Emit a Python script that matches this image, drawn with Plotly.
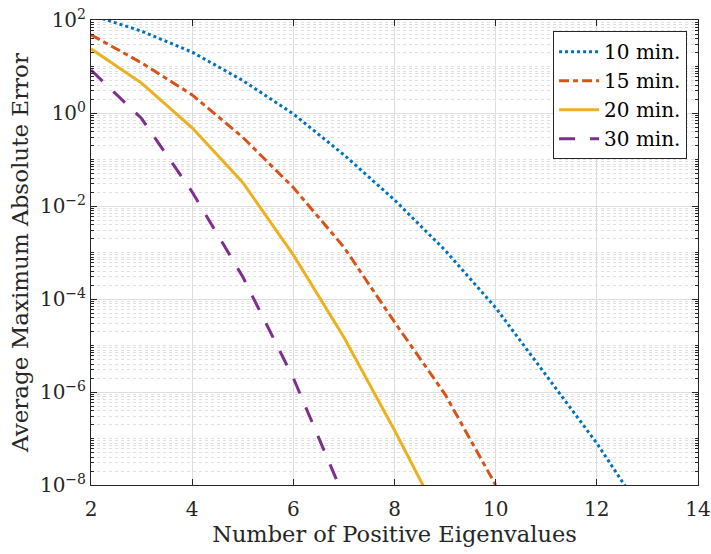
import plotly.graph_objects as go

# ---- data ----
x10 = [2, 3, 4, 5, 6, 7, 8, 9, 10, 11, 12, 13]
y10 = [129, 57.5, 20.4, 5.0, 0.955, 0.126, 0.0135, 1.12e-3, 6.5e-5, 2.2e-6, 7.9e-8, 1.8e-9]

x15 = [2, 3, 4, 5, 6, 7, 8, 9, 10]
y15 = [48, 12, 2.45, 0.30, 0.025, 1.3e-3, 3.2e-5, 8.9e-7, 1.0e-8]

x20 = [2, 3, 4, 5, 6, 7, 8, 9]
y20 = [24, 4.4, 0.48, 0.032, 8.9e-4, 1.5e-5, 1.5e-7, 1.2e-9]

x30 = [2, 3, 4, 5, 6, 7]
y30 = [8.4, 0.76, 0.020, 3.0e-4, 2.0e-6, 5.5e-9]

labels = ["10 min.", "15 min.", "20 min.", "30 min."]
colors = ["#0072BD", "#D95319", "#EDB120", "#7E2F8E"]
dashes = ["3px,3px", "10px,4px,5px,4px", "solid", "16px,15px"]

xticks = [2, 4, 6, 8, 10, 12, 14]
yexp = [-8, -6, -4, -2, 0, 2]

FONT = "DejaVu Serif"
INK = "#262626"

fig = go.Figure()
for xs, ys, name, c, d in zip([x10, x15, x20, x30], [y10, y15, y20, y30],
                              labels, colors, dashes):
    fig.add_trace(go.Scatter(x=xs, y=ys, mode="lines", name=name,
                             line=dict(color=c, width=3, dash=d)))

major_y = [10.0 ** e for e in yexp]
minor_y = []
for e in range(-8, 2):
    for m in range(1, 10):
        v = m * 10.0 ** e
        if m == 1 and e in yexp:
            continue
        minor_y.append(v)

fig.update_layout(
    width=711, height=554,
    margin=dict(l=91, r=13, t=20, b=69),
    paper_bgcolor="white", plot_bgcolor="white",
    font=dict(family=FONT, color=INK, size=18),
    showlegend=True,
    legend=dict(x=0.982, y=0.976, xanchor="right", yanchor="top",
                bgcolor="white", bordercolor=INK, borderwidth=1,
                font=dict(family=FONT, size=20, color="#000000"),
                tracegroupgap=0, itemwidth=40),
)

fig.update_xaxes(
    range=[2, 14], tickmode="array", tickvals=xticks,
    ticktext=[str(t) for t in xticks], automargin=False,
    showgrid=True, gridcolor="#dedede", gridwidth=1,
    showline=True, linecolor=INK, linewidth=1, mirror="ticks",
    ticks="inside", ticklen=6, tickcolor=INK,
    tickfont=dict(family=FONT, size=20, color=INK),
    ticklabelstandoff=6,
    title=dict(text="Number of Positive Eigenvalues",
               font=dict(family=FONT, size=22.5, color=INK), standoff=5),
    zeroline=False,
)

fig.update_yaxes(
    type="log", range=[-8, 2], tickmode="array", tickvals=major_y,
    ticktext=["10<sup>\u2212%d</sup>" % (-e) if e < 0 else "10<sup>%d</sup>" % e
              for e in yexp], automargin=False,
    showgrid=True, gridcolor="#dedede", gridwidth=1,
    showline=True, linecolor=INK, linewidth=1, mirror="allticks",
    ticks="inside", ticklen=6, tickcolor=INK,
    tickfont=dict(family=FONT, size=20, color=INK),
    minor=dict(tickmode="array", tickvals=minor_y, ticks="inside", ticklen=3,
               tickcolor=INK, showgrid=True, gridcolor="#e0e0e0",
               griddash="dot", gridwidth=1),
    title=dict(text="Average Maximum Absolute Error",
               font=dict(family=FONT, size=23, color=INK), standoff=4),
    zeroline=False,
)

fig.write_html("out.html")
